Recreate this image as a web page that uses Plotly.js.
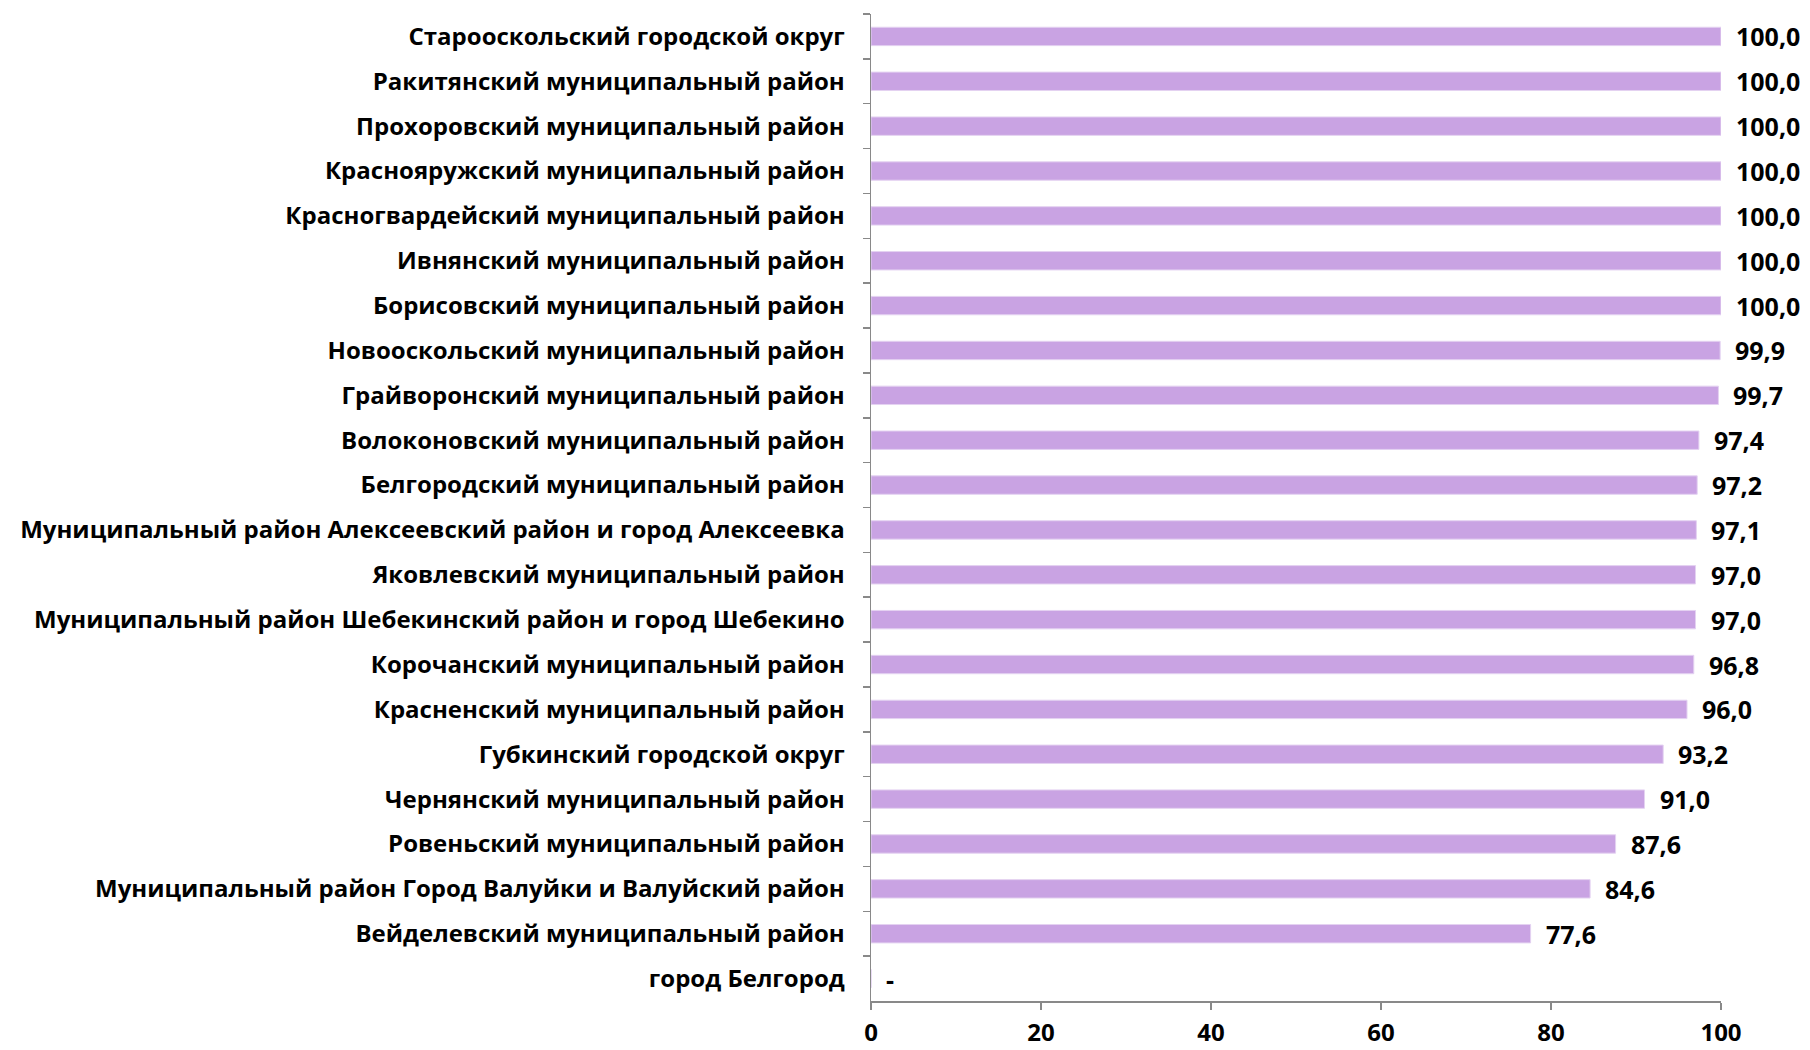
<!DOCTYPE html>
<html>
<head>
<meta charset="utf-8">
<script src="https://cdn.plot.ly/plotly-3.0.1.min.js"></script>
<style>html,body{margin:0;padding:0;background:#fff;}#chart{width:1810px;height:1050px;}</style>
</head>
<body>
<div id="chart"></div>
<script>
const categories = [
  "Старооскольский городской округ",
  "Ракитянский муниципальный район",
  "Прохоровский муниципальный район",
  "Краснояружский муниципальный район",
  "Красногвардейский муниципальный район",
  "Ивнянский муниципальный район",
  "Борисовский муниципальный район",
  "Новооскольский муниципальный район",
  "Грайворонский муниципальный район",
  "Волоконовский муниципальный район",
  "Белгородский муниципальный район",
  "Муниципальный район Алексеевский район и город Алексеевка",
  "Яковлевский муниципальный район",
  "Муниципальный район Шебекинский район и город Шебекино",
  "Корочанский муниципальный район",
  "Красненский муниципальный район",
  "Губкинский городской округ",
  "Чернянский муниципальный район",
  "Ровеньский муниципальный район",
  "Муниципальный район Город Валуйки и Валуйский район",
  "Вейделевский муниципальный район",
  "город Белгород"
];
const values = [100.0, 100.0, 100.0, 100.0, 100.0, 100.0, 100.0, 99.9, 99.7, 97.4, 97.2, 97.1, 97.0, 97.0, 96.8, 96.0, 93.2, 91.0, 87.6, 84.6, 77.6, null];
const xTicks = [0, 20, 40, 60, 80, 100];

const labels = values.map(v => v === null ? "-" : v.toFixed(1).replace(".", ","));

const trace = {
  type: "bar",
  orientation: "h",
  x: values.map(v => v === null ? 0 : v),
  y: categories,
  marker: {color: "#C9A3E3", line: {color: "#E4D2F1", width: 1}},
  hoverinfo: "none"
};

const annotations = categories.map((c, i) => ({
  x: values[i] === null ? 0 : values[i],
  y: c,
  xref: "x", yref: "y",
  text: labels[i],
  showarrow: false,
  xanchor: "left",
  yanchor: "middle",
  xshift: 13,
  font: {family: "Open Sans", size: 25, color: "#000", weight: 700}
}));

const layout = {
  width: 1810, height: 1050,
  margin: {l: 871, r: 89, t: 14, b: 49},
  paper_bgcolor: "#fff", plot_bgcolor: "#fff",
  showlegend: false,
  bargap: 0.59,
  xaxis: {
    range: [0, 100], tickvals: xTicks, ticktext: xTicks.map(String),
    showgrid: false, zeroline: false,
    showline: true, linecolor: "#898989", linewidth: 1.5,
    ticks: "outside", ticklen: 7, tickcolor: "#898989", tickwidth: 1.5,
    ticklabelstandoff: 3,
    tickfont: {family: "Open Sans", size: 24, color: "#000", weight: 700},
    fixedrange: true
  },
  yaxis: {
    type: "category", autorange: "reversed",
    showgrid: false, zeroline: false,
    showline: true, linecolor: "#898989", linewidth: 1.5,
    ticks: "outside", ticklen: 7, tickcolor: "#898989", tickwidth: 1.5,
    tickson: "boundaries",
    ticklabelstandoff: 20,
    tickfont: {family: "Open Sans", size: 24, color: "#000", weight: 700},
    fixedrange: true
  },
  annotations: annotations
};

Plotly.newPlot("chart", [trace], layout, {displayModeBar: false, staticPlot: true});
</script>
</body>
</html>
